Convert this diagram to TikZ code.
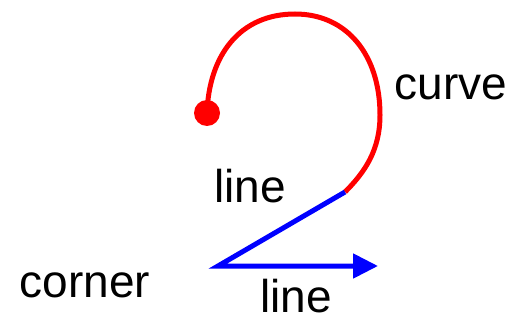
\documentclass[tikz,border=0pt]{standalone}
\usepackage{fontspec}
\setmainfont{Liberation Sans}
\usetikzlibrary{arrows.meta}

\begin{document}
\begin{tikzpicture}[
  x=1pt,y=-1pt,
  label/.style={anchor=base,inner sep=0pt,font=\fontsize{46}{50}\selectfont},
  every path/.style={line width=5pt}]
\useasboundingbox (0,0) rectangle (519,323);
\coordinate (start) at (207,113);
\coordinate (top) at (295,14);
\coordinate (right) at (380,115);
\coordinate (join) at (345,192);
\coordinate (corner) at (218,266);
\coordinate (tip) at (378,266);
\fill[red] (start) circle (13);
\draw[red] (start) .. controls (209,55) and (240,14) .. (top)
  .. controls (347,14) and (380,55) .. (right)
  .. controls (380,150) and (365,172) .. (join);
\draw[blue,-{Triangle[length=25pt,width=24pt]}] (join) -- (corner) -- (tip);
\node[label] (lcurve) at (451,100) {curve};
\node[label] (lline1) at (250,203) {line};
\node[label] (lcorner) at (85,297) {corner};
\node[label] (lline2) at (296,312) {line};
\end{tikzpicture}
\end{document}
